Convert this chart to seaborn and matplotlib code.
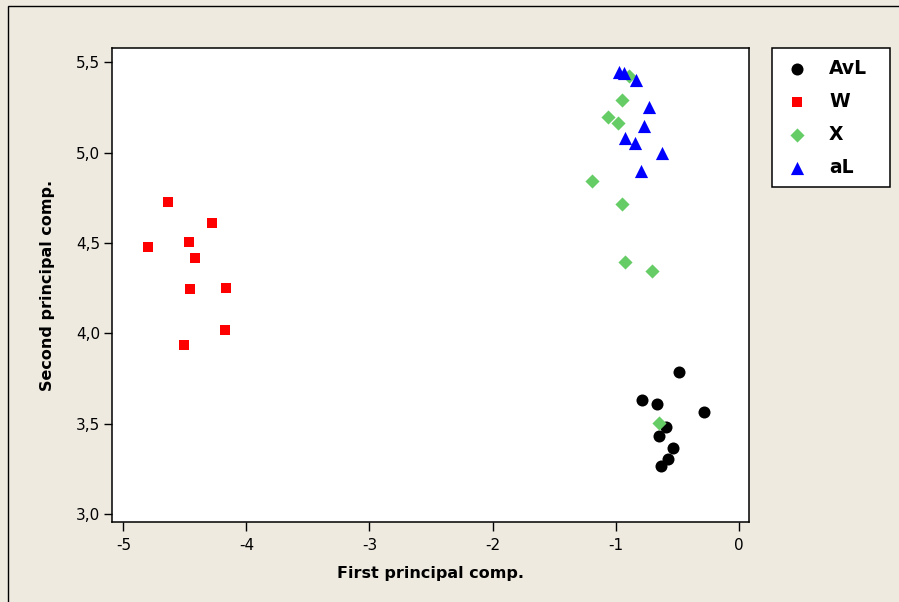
import numpy as np
import pandas as pd
import matplotlib
matplotlib.use("Agg")
import matplotlib.pyplot as plt
from matplotlib.patches import Rectangle
from matplotlib.ticker import FuncFormatter
import seaborn as sns

# datos (componentes principales)
grupos = ["AvL", "W", "X", "aL"]

avl_x = [-0.485, -0.788, -0.661, -0.279, -0.593, -0.647, -0.531, -0.572, -0.634]
avl_y = [3.789, 3.632, 3.608, 3.566, 3.485, 3.433, 3.365, 3.304, 3.269]

w_x = [-4.634, -4.276, -4.799, -4.468, -4.414, -4.455, -4.162, -4.175, -4.506]
w_y = [4.729, 4.610, 4.480, 4.504, 4.418, 4.244, 4.253, 4.019, 3.935]

x_x = [-0.889, -0.946, -1.064, -0.983, -1.189, -0.946, -0.924, -0.704, -0.645]
x_y = [5.424, 5.291, 5.199, 5.163, 4.843, 4.715, 4.394, 4.347, 3.503]

al_x = [-0.970, -0.935, -0.834, -0.729, -0.769, -0.924, -0.842, -0.626, -0.794]
al_y = [5.445, 5.440, 5.402, 5.251, 5.148, 5.080, 5.052, 5.000, 4.899]

df = pd.concat([
    pd.DataFrame({"PC1": avl_x, "PC2": avl_y, "Grupo": "AvL"}),
    pd.DataFrame({"PC1": w_x, "PC2": w_y, "Grupo": "W"}),
    pd.DataFrame({"PC1": x_x, "PC2": x_y, "Grupo": "X"}),
    pd.DataFrame({"PC1": al_x, "PC2": al_y, "Grupo": "aL"}),
], ignore_index=True)

colores = {"AvL": "black", "W": "#FF0000", "X": "#66CC66", "aL": "#0000FF"}
marcas = {"AvL": "o", "W": "s", "X": "D", "aL": "^"}
tamanos = {"AvL": 75, "W": 62, "X": 52, "aL": 90}

sns.set_style("white")
plt.rcParams["font.family"] = ["DejaVu Sans"]
plt.rcParams["text.color"] = "black"
plt.rcParams["axes.labelcolor"] = "black"
plt.rcParams["xtick.color"] = "black"
plt.rcParams["ytick.color"] = "black"

fig = plt.figure(figsize=(8.99, 6.02), dpi=100)
fig.patch.set_facecolor("#EEEAE0")
ax = fig.add_axes([0.1243, 0.1324, 0.8332 - 0.1243, 0.9198 - 0.1324])
ax.set_facecolor("white")

for g in grupos:
    sub = df[df.Grupo == g]
    sns.scatterplot(x="PC1", y="PC2", data=sub, ax=ax, color=colores[g],
                    marker=marcas[g], s=tamanos[g], linewidth=0, label=g,
                    legend=False)

ax.set_xlim(-5.094, 0.084)
ax.set_ylim(2.956, 5.577)
ax.set_xticks([-5, -4, -3, -2, -1, 0])
ax.set_yticks([3.0, 3.5, 4.0, 4.5, 5.0, 5.5])
ax.xaxis.set_major_formatter(FuncFormatter(lambda v, p: "%d" % v))
ax.yaxis.set_major_formatter(FuncFormatter(lambda v, p: ("%.1f" % v).replace(".", ",")))
ax.tick_params(axis="x", direction="out", length=6.5, width=1,
               labelsize=11, pad=5, bottom=True)
ax.tick_params(axis="y", direction="out", length=5.5, width=1,
               labelsize=11, pad=3, left=True)
for lado in ["top", "right", "bottom", "left"]:
    ax.spines[lado].set_color("black")
    ax.spines[lado].set_linewidth(1.1)

ax.set_xlabel("First principal comp.", fontsize=11.5, fontweight="bold", labelpad=9)
ax.set_ylabel("Second principal comp.", fontsize=11.5, fontweight="bold", labelpad=15)

handles, labels = ax.get_legend_handles_labels()
leg = fig.legend(handles, labels, loc="upper left",
                 bbox_to_anchor=(0.8585, 0.6, 0.1315, 0.3198), mode="expand",
                 frameon=True, fancybox=False, edgecolor="black", framealpha=1,
                 prop={"weight": "bold", "size": 13.5}, handletextpad=0.9,
                 labelspacing=0.75, borderpad=0.55, handlelength=1.6,
                 borderaxespad=0)
leg.get_frame().set_linewidth(1.1)

# marco de la ventana (solo se ve arriba y a la izquierda)
fig.add_artist(Rectangle((8 / 899, -0.1), 1.2, 1.1 - 6 / 602,
                         transform=fig.transFigure, fill=False,
                         edgecolor="black", linewidth=1.0))

fig.savefig("out.png", dpi=100, facecolor=fig.get_facecolor())
